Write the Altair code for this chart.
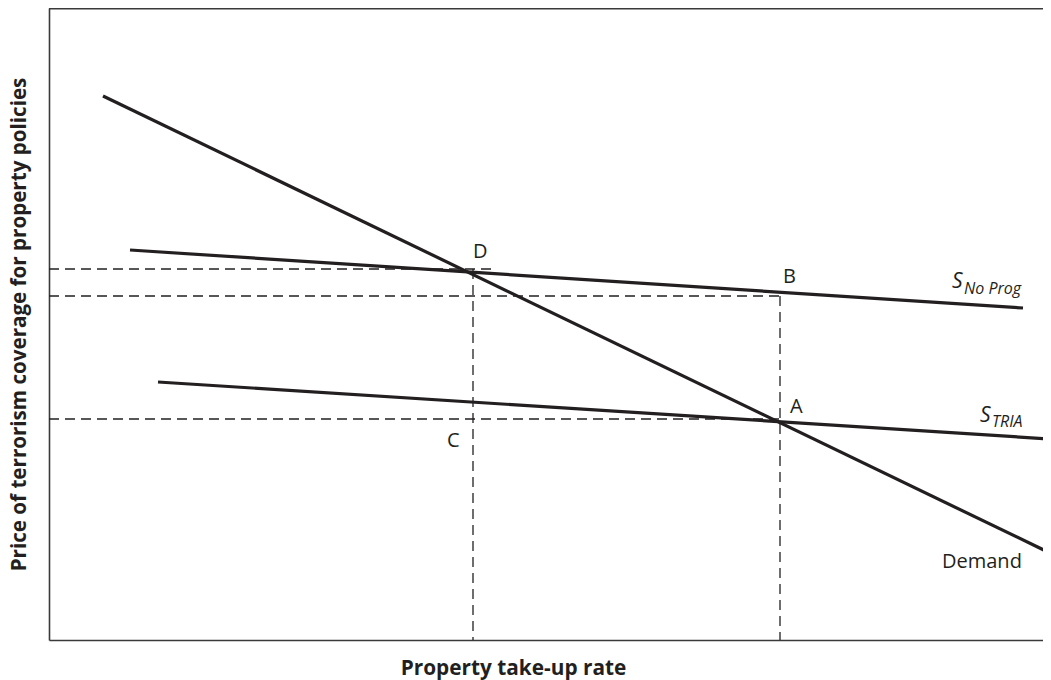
import altair as alt
import pandas as pd

# ---- data (chart units = pixels of the plot area, origin bottom-left) ----
curve_names = ["Demand", "Demand", "S No Prog", "S No Prog", "S TRIA", "S TRIA"]
curve_x = [54, 1001, 81, 974, 109, 1001]
curve_y = [544, 87, 390, 332, 258, 201]

guide_x1 = [0, 0, 0, 424, 731]
guide_x2 = [443, 731, 731, 424, 731]
guide_y1 = [371, 344, 221, 371, 344]
guide_y2 = [371, 344, 221, 0, 0]

point_text = ["D", "B", "A", "C", "Demand"]
point_x = [424, 734, 741, 398, 893]
point_y = [382, 357, 227, 193, 72]

s_text = ["S", "S"]
s_x = [903, 931]
s_y = [352, 218]
sub_text = ["No Prog", "TRIA"]
sub_x = [915, 943]
sub_y = [346, 213]

PLOT_W = 994   # visible part of the plot area (svg must fit in the page width)
Y_MAX = 632
INK = "#231f20"
FRAME = "#3a3a3a"

curves = pd.DataFrame({"name": curve_names, "x": curve_x, "y": curve_y})
guides = pd.DataFrame({"x": guide_x1, "x2": guide_x2, "y": guide_y1, "y2": guide_y2})
points = pd.DataFrame({"t": point_text, "x": point_x, "y": point_y})
ss = pd.DataFrame({"t": s_text, "x": s_x, "y": s_y})
subs = pd.DataFrame({"t": sub_text, "x": sub_x, "y": sub_y})

xs = alt.Scale(domain=[0, PLOT_W], nice=False, zero=False)
ys = alt.Scale(domain=[0, Y_MAX], nice=False, zero=False)

xenc = alt.X("x:Q", scale=xs, axis=alt.Axis(
    title="Property take-up rate", labels=False, ticks=False, grid=False,
    domain=True, domainColor=FRAME, domainWidth=1.6,
    titleX=464, titleY=34, titleBaseline="alphabetic", titleAlign="center",
    titleFont="Open Sans", titleFontSize=20.8, titleFontWeight="bold", titleColor=INK))
yenc = alt.Y("y:Q", scale=ys, axis=alt.Axis(
    title="Price of terrorism coverage for property policies", labels=False, ticks=False,
    grid=False, domain=True, domainColor=FRAME, domainWidth=1.6,
    titleX=-24, titleY=316, titleBaseline="alphabetic",
    titleAlign="center", titleAngle=270,
    titleFont="Open Sans", titleFontSize=20.6, titleFontWeight="bold", titleColor=INK))

top_frame = alt.Chart(pd.DataFrame({"k": [0]})).mark_rule(
    color=FRAME, strokeWidth=1.6
).encode(x=alt.value(0), x2=alt.value(PLOT_W + 10), y=alt.value(0.8))

guide_layer = alt.Chart(guides).mark_rule(
    color=INK, strokeWidth=1.3, strokeDash=[10, 6]
).encode(x=xenc, x2="x2:Q", y=yenc, y2="y2:Q")

curve_layer = alt.Chart(curves).mark_line(
    color=INK, strokeWidth=3.2, strokeCap="butt"
).encode(x=xenc, y=yenc, detail="name:N")

point_layer = alt.Chart(points).mark_text(
    align="left", baseline="alphabetic", font="Open Sans", fontSize=20, color=INK
).encode(x=xenc, y=yenc, text="t:N")

s_layer = alt.Chart(ss).mark_text(
    align="left", baseline="alphabetic", font="Open Sans", fontSize=21,
    fontStyle="italic", color=INK
).encode(x=xenc, y=yenc, text="t:N")

sub_layer = alt.Chart(subs).mark_text(
    align="left", baseline="alphabetic", font="Open Sans", fontSize=16,
    fontStyle="italic", color=INK
).encode(x=xenc, y=yenc, text="t:N")

chart = alt.layer(
    top_frame, guide_layer, curve_layer, point_layer, s_layer, sub_layer
).properties(
    width=PLOT_W, height=Y_MAX,
    autosize=alt.AutoSizeParams(type="none"),
    padding={"left": 41, "top": 0, "right": 0, "bottom": 40},
).configure_view(strokeWidth=0, stroke="transparent")

chart.save("out.html", embed_options={"renderer": "svg", "actions": False})
